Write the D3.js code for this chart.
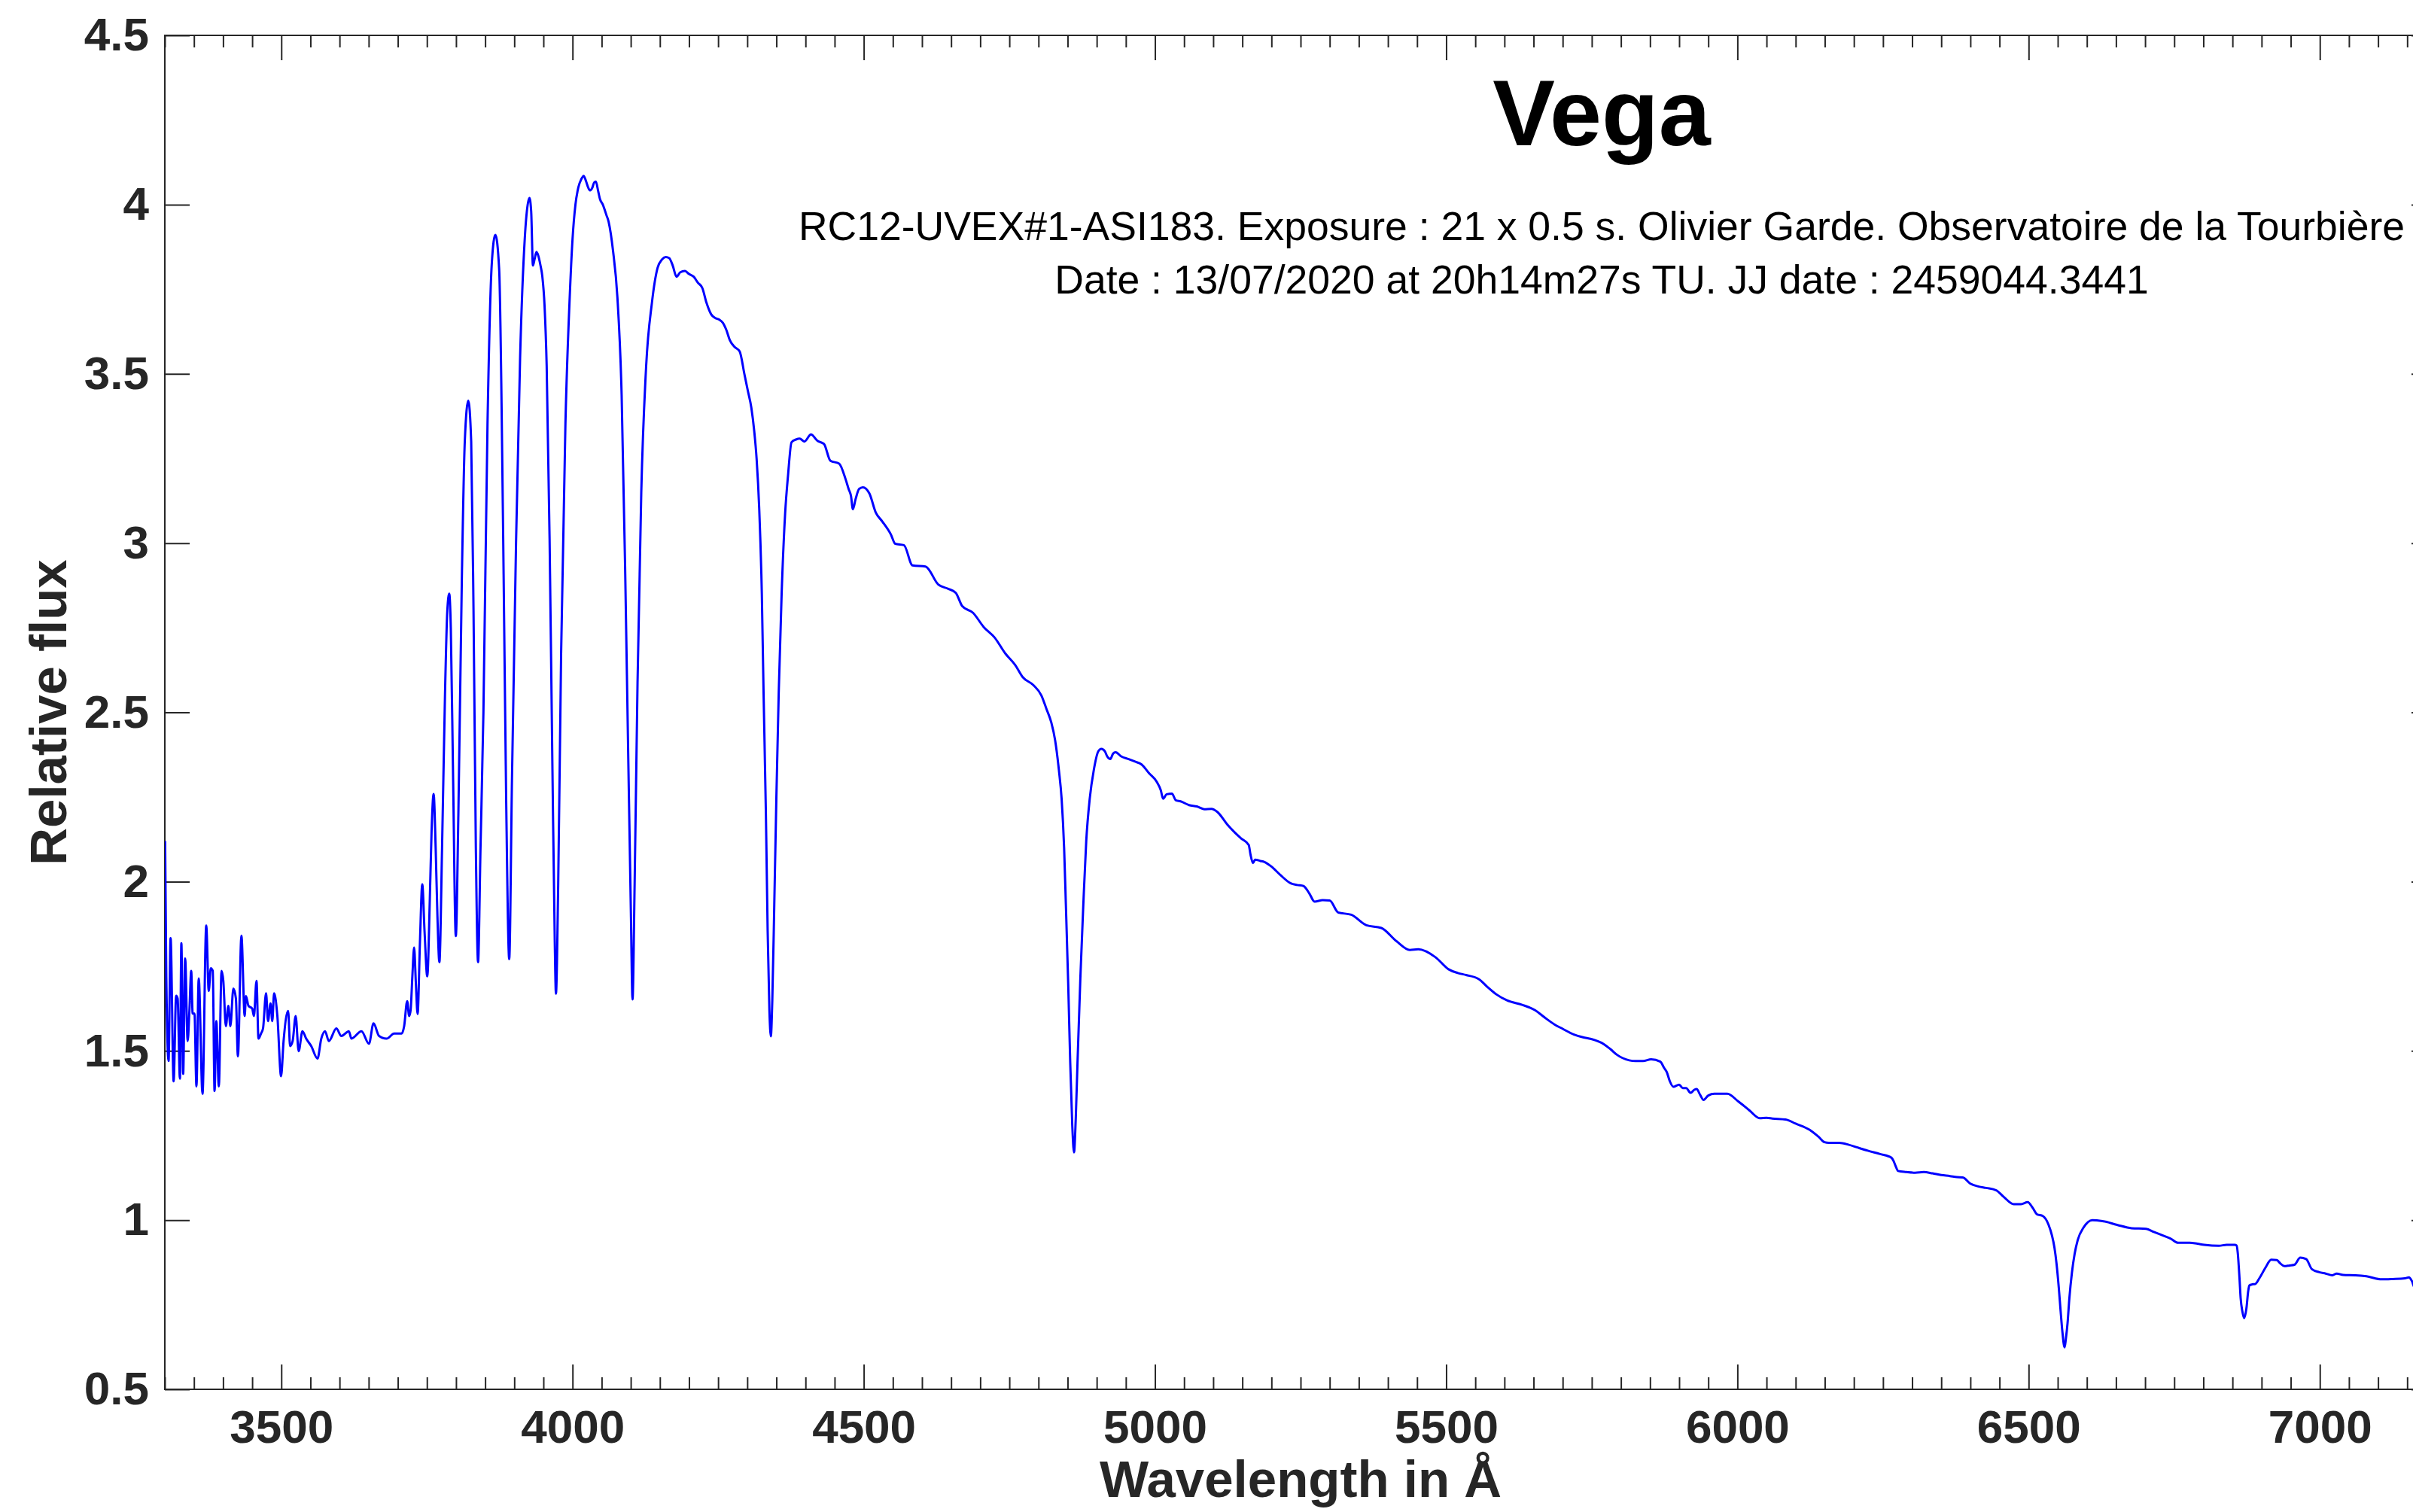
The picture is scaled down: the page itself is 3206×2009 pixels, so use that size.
<!DOCTYPE html>
<html><head><meta charset="utf-8">
<script src="https://cdn.jsdelivr.net/npm/d3@7"></script>
<style>html,body{margin:0;padding:0;background:#fff;} svg{display:block;}</style>
</head><body>
<svg id="chart" width="3206" height="2009"></svg>
<script>
// ---- Data: [wavelength (Å), relative flux] ----
const uvNoise = [[3300.5,2.12],[3302.5,1.72],[3306.4,1.47],[3309.9,1.833],[3315.1,1.41],[3319.4,1.663],[3322,1.655],[3325.9,1.418],[3328.4,1.818],[3331.5,1.432],[3334.9,1.773],[3339.2,1.529],[3342.2,1.618],[3345.3,1.736],[3347.8,1.61],[3350.9,1.61],[3354.3,1.395],[3358.2,1.714],[3364.7,1.373],[3371.1,1.87],[3375.4,1.677],[3378.9,1.744],[3382.3,1.736],[3385.4,1.381],[3388.4,1.588],[3392.7,1.395],[3397.4,1.736],[3400.4,1.707],[3404.8,1.573],[3409.1,1.633],[3412.5,1.573],[3417.7,1.684],[3422,1.655],[3425.5,1.484],[3431.5,1.84],[3437.1,1.603],[3439.3,1.662],[3443.6,1.633],[3450,1.625],[3453,1.603],[3457.4,1.707],[3460.8,1.536],[3465.1,1.551],[3468.6,1.566],[3473.8,1.67],[3477.2,1.588],[3481.5,1.64],[3484.5,1.588],[3487.6,1.67],[3493.2,1.603],[3499.6,1.425],[3503.9,1.529],[3511.7,1.618],[3515.1,1.514],[3519.5,1.529],[3524.6,1.603],[3529.8,1.499],[3536.3,1.558],[3542.7,1.536],[3551.4,1.514],[3562.1,1.477],[3568.6,1.536],[3575.1,1.558],[3581.6,1.529],[3594.5,1.566],[3603.1,1.544],[3616,1.558],[3620.4,1.536],[3637.6,1.558],[3650.5,1.521],[3658.3,1.581],[3667.8,1.544],[3680.7,1.536],[3693.7,1.551],[3706.6,1.551],[3710.9,1.573],[3716.1,1.647],[3719.5,1.603]];

const balmerSeries = [[3722,1.62],[3725,1.72],[3728,1.805],[3731,1.70],[3734,1.609],[3738,1.82],[3742,1.992],[3746,1.85],[3750.6,1.72],[3755,1.95],[3758,2.15],[3761.5,2.259],[3765,2.1],[3768,1.9],[3771.4,1.762],[3776,2.1],[3781,2.55],[3785,2.8],[3788.3,2.851],[3791,2.75],[3795,2.3],[3799.6,1.839],[3804,2.2],[3810,2.9],[3815,3.3],[3821,3.421],[3826,3.3],[3830,2.8],[3834,2.1],[3837.8,1.762],[3842,2.1],[3847,2.5],[3854,3.35],[3861.5,3.83],[3867.5,3.911],[3874,3.81],[3881,3.01],[3886,2.25],[3891.3,1.771],[3896,2.3],[3903,3.0],[3910,3.55],[3918,3.9],[3923,4.0],[3926,4.02],[3929,3.98],[3932,3.82],[3935,3.84],[3938,3.86],[3941,3.85],[3945,3.82],[3948,3.79],[3952,3.7],[3955.6,3.523],[3960.6,3.013],[3965.5,2.332],[3969.5,1.822],[3971.5,1.669],[3975.4,1.992],[3980.4,2.673],[3987.8,3.353],[3995.2,3.728],[4000,3.898],[4005,4.0],[4010,4.051],[4015,4.075],[4019,4.085],[4023,4.07],[4027,4.05],[4030,4.042],[4034,4.05],[4037,4.065],[4040,4.068],[4044,4.04],[4047,4.017],[4052,4.0],[4058,3.97],[4062,3.949],[4069.5,3.864],[4077,3.727],[4084.3,3.438],[4090.3,2.928],[4095.2,2.417],[4100.2,1.907],[4103,1.652],[4106.6,1.992],[4111.6,2.587],[4118,3.149],[4126.4,3.523],[4136.3,3.71],[4146,3.813],[4153.6,3.838],[4160,3.845],[4166,3.842],[4172,3.82],[4178.5,3.787],[4185,3.8],[4193,3.804],[4200,3.795],[4208,3.787],[4215,3.77],[4223,3.753],[4230,3.71],[4238,3.676],[4245,3.665],[4252,3.66],[4258,3.651],[4264,3.63],[4270,3.6],[4278,3.58],[4287,3.566],[4295,3.5],[4301,3.45]];

const blueSlope = [[4307,3.40],[4312,3.33],[4316,3.25],[4320.5,3.103],[4325,2.85],[4328,2.557],[4332,2.2],[4335,1.855],[4338,1.62],[4340.5,1.543],[4343,1.65],[4346.4,1.933],[4350,2.25],[4354,2.557],[4359,2.85],[4365,3.087],[4370,3.2],[4376,3.298],[4383.5,3.306],[4390,3.309],[4398,3.3],[4409.4,3.321],[4420.6,3.302],[4431.7,3.293],[4442.8,3.243],[4457.7,3.235],[4468.8,3.189],[4474,3.16],[4478,3.14],[4481.4,3.1],[4486,3.13],[4492,3.16],[4498.5,3.165],[4509.6,3.147],[4520.7,3.09],[4531.8,3.064],[4546.7,3.025],[4554,2.998],[4569,2.994],[4583.8,2.934],[4606,2.931],[4628.3,2.877],[4645,2.865],[4658,2.853],[4669,2.814],[4687.6,2.794],[4706,2.752],[4724.7,2.721],[4743,2.674],[4760,2.64],[4773,2.604],[4791.5,2.58],[4805,2.55],[4813.7,2.51],[4822,2.47],[4828.6,2.417],[4835,2.33],[4839.7,2.245],[4844,2.1],[4847,1.933],[4851,1.7],[4854.5,1.465],[4858,1.28],[4861,1.2],[4864,1.3],[4867,1.465],[4872,1.72],[4877,1.933],[4882,2.12],[4888,2.245],[4895,2.33],[4902.7,2.385]];

const greenSlope = [[4908,2.392],[4913.9,2.385],[4918,2.37],[4923.5,2.362],[4928,2.378],[4932.4,2.382],[4942,2.37],[4954.6,2.362],[4965,2.355],[4977,2.346],[4990,2.32],[5003,2.295],[5010,2.27],[5014,2.245],[5020,2.258],[5029,2.26],[5036,2.24],[5044,2.237],[5058.5,2.226],[5072,2.222],[5084.5,2.214],[5097,2.215],[5107,2.206],[5125,2.167],[5137,2.145],[5147.6,2.128],[5161,2.108],[5164,2.08],[5168.3,2.055],[5172,2.065],[5181,2.061],[5188,2.058],[5199.5,2.045],[5215,2.02],[5233,1.995],[5244,1.99],[5255,1.987],[5265,1.965],[5274,1.941],[5288,1.945],[5300,1.944],[5314.5,1.909],[5337,1.902],[5363,1.871],[5388.6,1.863],[5414.6,1.824],[5437.5,1.798]];

const yellowSlope = [[5452,1.80],[5482,1.776],[5504,1.741],[5520,1.73],[5534,1.724],[5556,1.712],[5570,1.69],[5586,1.667],[5604.4,1.649],[5630.4,1.636],[5652.6,1.62],[5668,1.60],[5686,1.578],[5700,1.565],[5719.4,1.548],[5735,1.54],[5749,1.535],[5771.3,1.519],[5782,1.505],[5793.5,1.488],[5814.3,1.472],[5825,1.47],[5838,1.47],[5852,1.475],[5867.7,1.468],[5874,1.45],[5878.8,1.437],[5884,1.41],[5890,1.394],[5900,1.40],[5906,1.39],[5912,1.39],[5919.6,1.376],[5926,1.385],[5930,1.387],[5936,1.37],[5941.9,1.355],[5950,1.368],[5960.5,1.373],[5982.7,1.373],[6001.2,1.351],[6020,1.325],[6038.3,1.301],[6050,1.302],[6060,1.300],[6082.8,1.297],[6100,1.285],[6123.6,1.267],[6140,1.245],[6149.6,1.23],[6157,1.228],[6175,1.228],[6190.4,1.223],[6205,1.215],[6223.8,1.205],[6245,1.195],[6264.6,1.184],[6268,1.175],[6272,1.158],[6276,1.145],[6290,1.142],[6305,1.14],[6320,1.142],[6335,1.138],[6350,1.133],[6365,1.13]];

const redSlope = [[6377,1.127],[6387,1.126],[6399.5,1.108],[6414.5,1.099],[6427,1.095],[6444.4,1.088],[6457,1.069],[6474.4,1.047],[6487,1.047],[6498.4,1.053],[6507,1.036],[6514.4,1.017],[6524.4,1.012],[6534.3,0.986],[6540,0.955],[6544.3,0.919],[6548,0.87],[6551.8,0.80],[6555,0.73],[6557.8,0.673],[6561.8,0.624],[6564,0.65],[6566.8,0.695],[6570,0.77],[6574.3,0.844],[6579,0.90],[6584.3,0.941],[6594.3,0.978],[6609.3,1.0],[6626.8,0.997],[6651.8,0.986],[6676.7,0.976],[6701.7,0.974],[6715,0.965],[6726.7,0.957],[6744,0.945],[6756.6,0.933],[6776.6,0.933],[6790,0.93],[6801.6,0.927],[6826.6,0.924],[6840,0.927],[6854,0.927],[6857,0.925],[6859,0.904],[6862,0.83],[6864,0.77],[6867,0.73],[6870,0.71],[6874,0.74],[6877,0.79],[6879,0.807],[6884,0.81],[6889,0.811],[6896.5,0.829],[6906.5,0.859],[6916.5,0.883],[6926,0.882],[6932,0.872],[6939,0.864],[6948,0.866],[6956.4,0.868],[6966.4,0.889],[6976.4,0.885],[6986.4,0.855],[6999,0.846],[7010,0.842],[7021.4,0.837],[7029,0.842],[7040,0.838],[7061.3,0.837],[7080,0.834],[7106.3,0.825],[7125,0.826],[7146,0.828],[7153,0.831],[7158,0.82],[7163,0.80],[7170,0.80],[7200,0.81]];

const xDomain = [3300, 7200];
const yDomain = [0.5, 4.5];
const xMajorTicks = [3500, 4000, 4500, 5000, 5500, 6000, 6500, 7000];
const xTickLabels = ["3500", "4000", "4500", "5000", "5500", "6000", "6500", "7000"];
const xMinorStep = 50;
const yTicks = [0.5, 1, 1.5, 2, 2.5, 3, 3.5, 4, 4.5];
const yTickLabels = ["0.5", "1", "1.5", "2", "2.5", "3", "3.5", "4", "4.5"];
const titleText = "Vega";
const subtitleLines = [
  "RC12-UVEX#1-ASI183. Exposure : 21 x 0.5 s. Olivier Garde. Observatoire de la Tourbière",
  "Date : 13/07/2020 at 20h14m27s TU. JJ date : 2459044.3441"
];
const xLabelText = "Wavelength in Å";
const yLabelText = "Relative flux";

// ---- Drawing ----
const spectrum = [].concat(uvNoise, balmerSeries, blueSlope, greenSlope, yellowSlope, redSlope);
const svg = d3.select("#chart");
const FONT = "'Liberation Sans', Arial, Helvetica, sans-serif";
const AXC = "#262626";
const plot = {left: 219, top: 47, right: 3237, bottom: 1846};

const x = d3.scaleLinear().domain(xDomain).range([plot.left, plot.right]);
const y = d3.scaleLinear().domain(yDomain).range([plot.bottom, plot.top]);

svg.append("rect").attr("width", 3206).attr("height", 2009).attr("fill", "#fff");

svg.append("defs").append("clipPath").attr("id", "plotclip")
  .append("rect").attr("x", plot.left).attr("y", plot.top)
  .attr("width", plot.right - plot.left).attr("height", plot.bottom - plot.top);

const xMinor = d3.range(xDomain[0], xDomain[1] + 1, xMinorStep).filter(v => !xMajorTicks.includes(v));

function styleAxis(g) {
  g.select("path.domain").remove();
  g.selectAll(".tick line").attr("stroke", AXC).attr("stroke-width", 2);
  g.selectAll(".tick text").attr("fill", AXC);
  g.attr("font-family", FONT).attr("font-size", 62).attr("font-weight", "bold");
}

// bottom axis
svg.append("g").attr("transform", `translate(0,${plot.bottom})`)
  .call(d3.axisBottom(x).tickValues(xMinor).tickSize(-16).tickFormat(""))
  .call(styleAxis);
svg.append("g").attr("transform", `translate(0,${plot.bottom})`)
  .call(d3.axisBottom(x).tickValues(xMajorTicks).tickSize(-33).tickPadding(27)
    .tickFormat((d, i) => xTickLabels[i]))
  .call(styleAxis);
// top axis
svg.append("g").attr("transform", `translate(0,${plot.top})`)
  .call(d3.axisTop(x).tickValues(xMinor).tickSize(-16).tickFormat(""))
  .call(styleAxis);
svg.append("g").attr("transform", `translate(0,${plot.top})`)
  .call(d3.axisTop(x).tickValues(xMajorTicks).tickSize(-33).tickFormat(""))
  .call(styleAxis);
// left axis
svg.append("g").attr("transform", `translate(${plot.left},0)`)
  .call(d3.axisLeft(y).tickValues(yTicks).tickSize(-33).tickPadding(21)
    .tickFormat((d, i) => yTickLabels[i]))
  .call(styleAxis);
// right axis
svg.append("g").attr("transform", `translate(${plot.right},0)`)
  .call(d3.axisRight(y).tickValues(yTicks).tickSize(-33).tickFormat(""))
  .call(styleAxis);

// box
svg.append("rect").attr("x", plot.left).attr("y", plot.top)
  .attr("width", plot.right - plot.left).attr("height", plot.bottom - plot.top)
  .attr("fill", "none").attr("stroke", AXC).attr("stroke-width", 2);

// spectrum
const line = d3.line().x(d => x(d[0])).y(d => y(d[1])).curve(d3.curveMonotoneX);
svg.append("path").datum(spectrum)
  .attr("clip-path", "url(#plotclip)")
  .attr("d", line)
  .attr("fill", "none").attr("stroke", "#0000ff").attr("stroke-width", 3)
  .attr("stroke-linejoin", "round");

// title & subtitle
svg.append("text").attr("x", 2128).attr("y", 193).attr("text-anchor", "middle")
  .attr("font-family", FONT).attr("font-size", 124).attr("font-weight", "bold")
  .attr("fill", "#000").text(titleText);
subtitleLines.forEach((t, i) => {
  svg.append("text").attr("x", 2128).attr("y", 319 + i * 71).attr("text-anchor", "middle")
    .attr("font-family", FONT).attr("font-size", 53.5).attr("fill", "#000").text(t);
});

// axis labels
svg.append("text").attr("x", (plot.left + plot.right) / 2).attr("y", 1989)
  .attr("text-anchor", "middle").attr("font-family", FONT).attr("font-size", 69)
  .attr("font-weight", "bold").attr("fill", AXC).text(xLabelText);
svg.append("text").attr("transform", `translate(88,${(plot.top + plot.bottom) / 2}) rotate(-90)`)
  .attr("text-anchor", "middle").attr("font-family", FONT).attr("font-size", 69)
  .attr("font-weight", "bold").attr("fill", AXC).text(yLabelText);
</script>
</body></html>
